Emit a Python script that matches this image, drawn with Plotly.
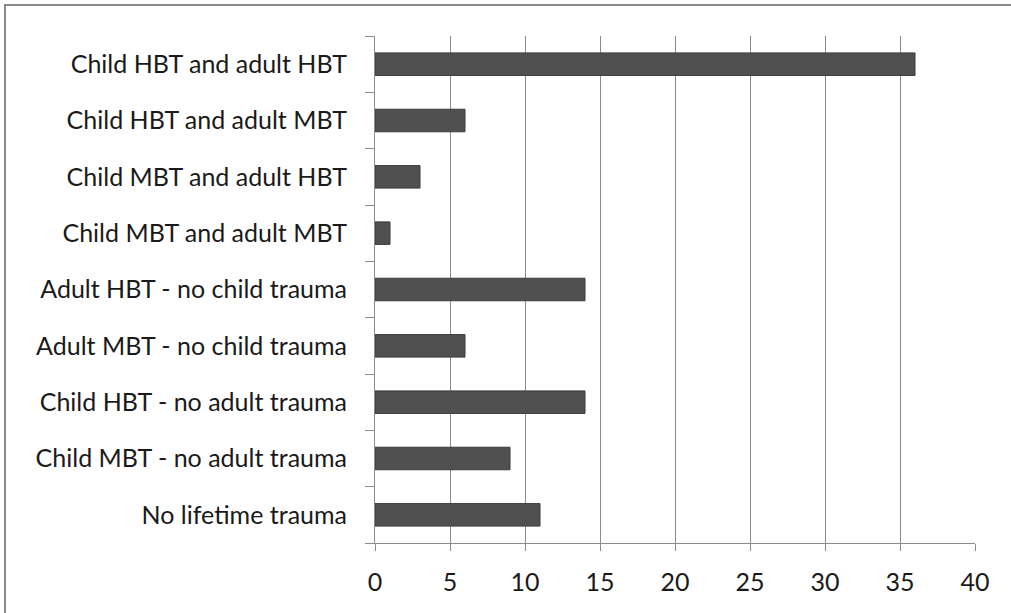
import plotly.graph_objects as go

categories = [
    "Child HBT and adult HBT",
    "Child HBT and adult MBT",
    "Child MBT and adult HBT",
    "Child MBT and adult MBT",
    "Adult HBT - no child trauma",
    "Adult MBT - no child trauma",
    "Child HBT - no adult trauma",
    "Child MBT - no adult trauma",
    "No lifetime trauma",
]
values = [36, 6, 3, 1, 14, 6, 14, 9, 11]
x_ticks = [0, 5, 10, 15, 20, 25, 30, 35, 40]

W, H = 1011, 613
L, R, T, B = 375, 36, 36, 70
pw, ph = W - L - R, H - T - B

def px_x(p):
    return (p - L) / pw

def px_y(p):
    return (H - B - p) / ph

fig = go.Figure()
fig.add_trace(go.Bar(
    x=values, y=categories, orientation="h",
    marker=dict(color="#505050", line=dict(color="#3c3c3c", width=1)),
    width=0.4,
))

fig.update_layout(
    width=W, height=H,
    margin=dict(l=L, r=R, t=T, b=B, autoexpand=False),
    paper_bgcolor="white", plot_bgcolor="white",
    font=dict(family="Lato, Open Sans, sans-serif", size=25, color="#1a1a1a"),
    showlegend=False,
    shapes=[dict(type="rect", xref="paper", yref="paper",
                 x0=px_x(5), x1=px_x(1030), y0=px_y(630), y1=px_y(5),
                 line=dict(color="#8a8a8a", width=2), layer="above")],
)
fig.update_xaxes(
    range=[0, 40], tickvals=x_ticks, ticktext=[str(v) for v in x_ticks],
    showgrid=True, gridcolor="#8c8c8c", gridwidth=1,
    showline=True, linecolor="#8c8c8c", linewidth=1,
    ticks="outside", ticklen=7, tickcolor="#8c8c8c",
    zeroline=False, ticklabelstandoff=10,
)
fig.update_yaxes(
    categoryorder="array", categoryarray=categories[::-1],
    showgrid=False, showline=True, linecolor="#8c8c8c", linewidth=1,
    ticks="outside", ticklen=9, tickcolor="#8c8c8c", tickson="boundaries",
    ticklabelstandoff=22,
)

fig.write_html("out.html", config={"displayModeBar": False},
               post_script="document.body.style.margin='0';document.body.style.overflow='hidden';")
